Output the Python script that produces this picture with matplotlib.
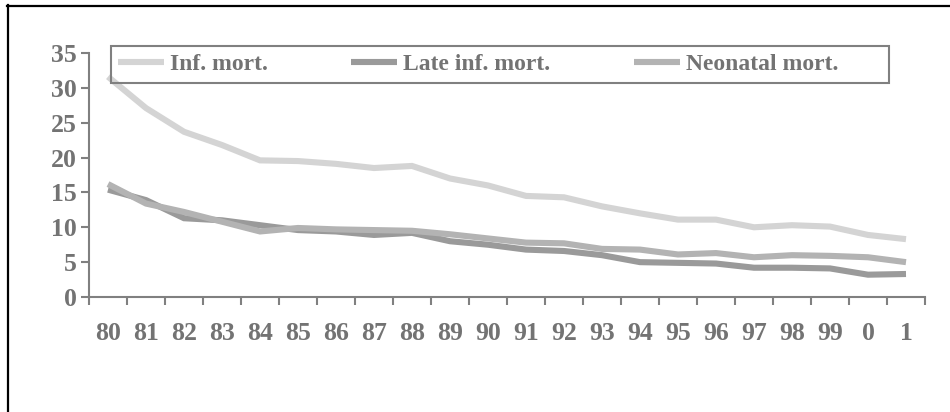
import matplotlib
matplotlib.use("Agg")
import matplotlib.pyplot as plt
from matplotlib.patches import Rectangle
from matplotlib.lines import Line2D

# ── Data: infant mortality per 1000 live births ──
years = ["80", "81", "82", "83", "84", "85", "86", "87", "88", "89", "90",
         "91", "92", "93", "94", "95", "96", "97", "98", "99", "0", "1"]
inf_mort = [31.6, 27.1, 23.7, 21.8, 19.6, 19.5, 19.1, 18.5, 18.8, 17.0, 16.0,
            14.5, 14.3, 13.0, 12.0, 11.1, 11.1, 10.0, 10.3, 10.1, 8.9, 8.3]
late_inf_mort = [15.4, 13.9, 11.3, 11.0, 10.3, 9.6, 9.4, 8.9, 9.2, 8.0, 7.5,
                 6.8, 6.6, 6.0, 5.0, 4.9, 4.8, 4.2, 4.2, 4.1, 3.2, 3.3]
neonatal_mort = [16.2, 13.4, 12.2, 10.8, 9.4, 9.9, 9.7, 9.6, 9.5, 9.0, 8.4,
                 7.8, 7.7, 6.9, 6.8, 6.1, 6.3, 5.7, 6.0, 5.9, 5.7, 5.0]

series_names = ["Inf. mort.", "Late inf. mort.", "Neonatal mort."]
series_colors = ["#d4d4d4", "#9a9a9a", "#b3b3b3"]

text_gray = "#737373"
axis_gray = "#808080"
font = {"family": "Liberation Serif", "weight": "bold"}

W, H = 950, 412
fig = plt.figure(figsize=(9.5, 4.12), dpi=100)
ax = fig.add_axes([89 / W, 1 - 297 / H, (925 - 89) / W, (297 - 53) / H])

x = range(len(years))
for vals, name, col in zip([inf_mort, late_inf_mort, neonatal_mort], series_names, series_colors):
    ax.plot(x, vals, color=col, lw=4.4, label=name,
            solid_capstyle="butt", solid_joinstyle="miter")

ax.set_xlim(-0.5, len(years) - 0.5)
ax.set_ylim(0, 35)
ax.set_yticks(range(0, 36, 5))
ax.set_xticks(list(x))
ax.set_xticklabels(years)
ax.set_xticks([i - 0.5 for i in range(len(years) + 1)], minor=True)

for s in ["top", "right"]:
    ax.spines[s].set_visible(False)
for s in ["left", "bottom"]:
    ax.spines[s].set_color(axis_gray)
    ax.spines[s].set_linewidth(1.5)

ax.tick_params(axis="x", which="major", length=0, pad=18, labelcolor=text_gray, labelsize=18.5)
ax.tick_params(axis="x", which="minor", length=6, width=1.5, color=axis_gray, direction="out")
ax.tick_params(axis="y", length=6, width=1.5, color=axis_gray, pad=3, labelcolor=text_gray, labelsize=18.5)
for lab in ax.get_xticklabels() + ax.get_yticklabels():
    lab.set_fontfamily(font["family"])
    lab.set_fontweight(font["weight"])

# legend: entries without frame, box drawn separately
handles = [Line2D([], [], color=c, lw=4.4, solid_capstyle="butt") for c in series_colors]
leg = fig.legend(handles, series_names, loc="center", bbox_to_anchor=(478 / W, 1 - 64.5 / H),
                 ncol=3, frameon=False, handlelength=1.95, handletextpad=0.25,
                 columnspacing=3.55, prop={"family": font["family"], "weight": "bold", "size": 17})
for t in leg.get_texts():
    t.set_color(text_gray)

fig.add_artist(Rectangle((111 / W, 1 - 83 / H), (889 - 111) / W, 37 / H,
                         transform=fig.transFigure, fill=False, ec=axis_gray, lw=1.5))

# outer frame (top and left edges)
fig.add_artist(Line2D([7 / W, 1], [1 - 5.5 / H, 1 - 5.5 / H], transform=fig.transFigure, color="black", lw=1.6))
fig.add_artist(Line2D([7.5 / W, 7.5 / W], [0, 1 - 5 / H], transform=fig.transFigure, color="black", lw=1.6))

fig.savefig("out.png", dpi=100)
